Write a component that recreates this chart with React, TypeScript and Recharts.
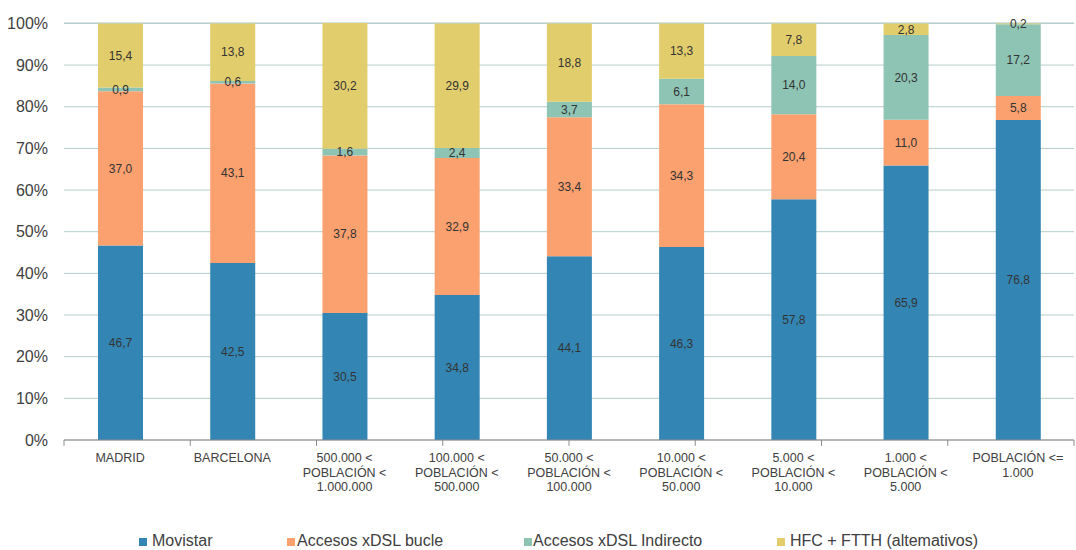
import React from 'react';
import { BarChart, Bar, XAxis, YAxis, CartesianGrid, LabelList, ReferenceLine } from 'recharts';

const categories = [
  'MADRID',
  'BARCELONA',
  '500.000 <\nPOBLACIÓN <\n1.000.000',
  '100.000 <\nPOBLACIÓN <\n500.000',
  '50.000 <\nPOBLACIÓN <\n100.000',
  '10.000 <\nPOBLACIÓN <\n50.000',
  '5.000 <\nPOBLACIÓN <\n10.000',
  '1.000 <\nPOBLACIÓN <\n5.000',
  'POBLACIÓN <=\n1.000',
];

const movistar = [46.7, 42.5, 30.5, 34.8, 44.1, 46.3, 57.8, 65.9, 76.8];
const xdslBucle = [37.0, 43.1, 37.8, 32.9, 33.4, 34.3, 20.4, 11.0, 5.8];
const xdslIndirecto = [0.9, 0.6, 1.6, 2.4, 3.7, 6.1, 14.0, 20.3, 17.2];
const hfcFtth = [15.4, 13.8, 30.2, 29.9, 18.8, 13.3, 7.8, 2.8, 0.2];

const yTicks = [0, 10, 20, 30, 40, 50, 60, 70, 80, 90, 100];

const series = [
  { key: 'movistar', name: 'Movistar', color: '#3386b4' },
  { key: 'bucle', name: 'Accesos xDSL bucle', color: '#fba06f' },
  { key: 'indirecto', name: 'Accesos xDSL Indirecto', color: '#8ec4b3' },
  { key: 'hfc', name: 'HFC + FTTH (altemativos)', color: '#e2cd6c' },
];

const data = categories.map((c, i) => ({
  cat: c,
  movistar: movistar[i],
  bucle: xdslBucle[i],
  indirecto: xdslIndirecto[i],
  hfc: hfcFtth[i],
}));

const FONT = '"Liberation Sans", Arial, sans-serif';
const TEXT = '#404040';

const fmt = (v: any) => Number(v).toFixed(1).replace('.', ',');

const CatTick = (props: any) => {
  const { x, y, payload } = props;
  const lines = String(payload.value).split('\n');
  return (
    <g transform={`translate(${x},${y})`}>
      {lines.map((l, i) => (
        <text
          key={i}
          x={0}
          y={i * 14.5}
          dy={10}
          textAnchor="middle"
          fill={TEXT}
          fontSize={12.5}
          fontFamily={FONT}
        >
          {l}
        </text>
      ))}
    </g>
  );
};

// legend swatch and text x positions
const swatchLeft = [139, 287, 524, 777];
const textLeft = [152, 297, 533, 790];

// boundaries between categories, for the small tick marks under the axis
const boundaries = [0, 1, 2, 3, 4, 5, 6, 7, 8, 9];

export default function App() {
  return (
    <div style={{ position: 'absolute', left: 0, top: 0, width: 1076, height: 550, background: '#fff' }}>
      <BarChart
        width={1076}
        height={550}
        data={data}
        margin={{ top: 23, right: 2, left: 0, bottom: 50 }}
        barSize={45}
      >
        <CartesianGrid vertical={false} stroke="#b3cccb" strokeWidth={1} />
        <XAxis
          xAxisId="cat"
          dataKey="cat"
          interval={0}
          height={60}
          tickLine={false}
          axisLine={{ stroke: '#8a8a8a' }}
          tick={<CatTick />}
          tickMargin={6}
        />
        <XAxis xAxisId="num" type="number" domain={[0, 9]} hide />
        <YAxis
          domain={[0, 100]}
          ticks={yTicks}
          width={64}
          axisLine={false}
          tickLine={false}
          tickMargin={10}
          tickFormatter={(v) => `${v}%`}
          tick={{ fill: TEXT, fontSize: 16, fontFamily: FONT }}
        />
        {boundaries.map((b) => (
          <ReferenceLine
            key={`b${b}`}
            xAxisId="num"
            segment={[{ x: b, y: 0 }, { x: b, y: -1.4 }]}
            ifOverflow="visible"
            stroke="#8a8a8a"
          />
        ))}
        {series.map((s) => (
          <Bar
            key={s.key}
            xAxisId="cat"
            dataKey={s.key}
            name={s.name}
            stackId="a"
            fill={s.color}
            isAnimationActive={false}
          >
            <LabelList
              dataKey={s.key}
              position="center"
              formatter={fmt}
              fill="#333333"
              fontSize={12}
              fontFamily={FONT}
            />
          </Bar>
        ))}
      </BarChart>
      {series.map((s, i) => (
        <React.Fragment key={s.key}>
          <div
            style={{
              position: 'absolute',
              left: swatchLeft[i],
              top: 538,
              width: 8,
              height: 8,
              background: s.color,
            }}
          />
          <div
            style={{
              position: 'absolute',
              left: textLeft[i],
              top: 532,
              fontFamily: FONT,
              fontSize: 16,
              lineHeight: '18px',
              color: TEXT,
              whiteSpace: 'nowrap',
            }}
          >
            {s.name}
          </div>
        </React.Fragment>
      ))}
    </div>
  );
}
